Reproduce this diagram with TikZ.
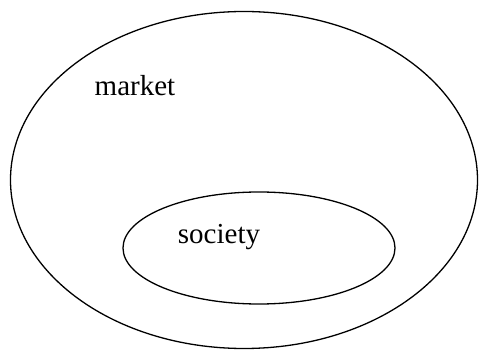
\documentclass[tikz,border=0pt]{standalone}
\usepackage{fontspec}
\setmainfont{Liberation Serif}
\usetikzlibrary{shapes.geometric}
\begin{document}
\begin{tikzpicture}[x=1pt,y=-1pt,
  set/.style={ellipse, draw, line width=1.3pt, inner sep=0pt},
  lbl/.style={anchor=base, inner sep=0pt, font=\fontsize{29}{32}\selectfont}]
\useasboundingbox (0,0) rectangle (480,350);
\node[set, minimum width=467pt, minimum height=337pt] (marketset) at (244,180) {};
\node[set, minimum width=272pt, minimum height=112pt] (societyset) at (259,248) {};
\node[lbl] (market) at (135,96) {market};
\node[lbl] (society) at (219,244) {society};
\end{tikzpicture}
\end{document}
